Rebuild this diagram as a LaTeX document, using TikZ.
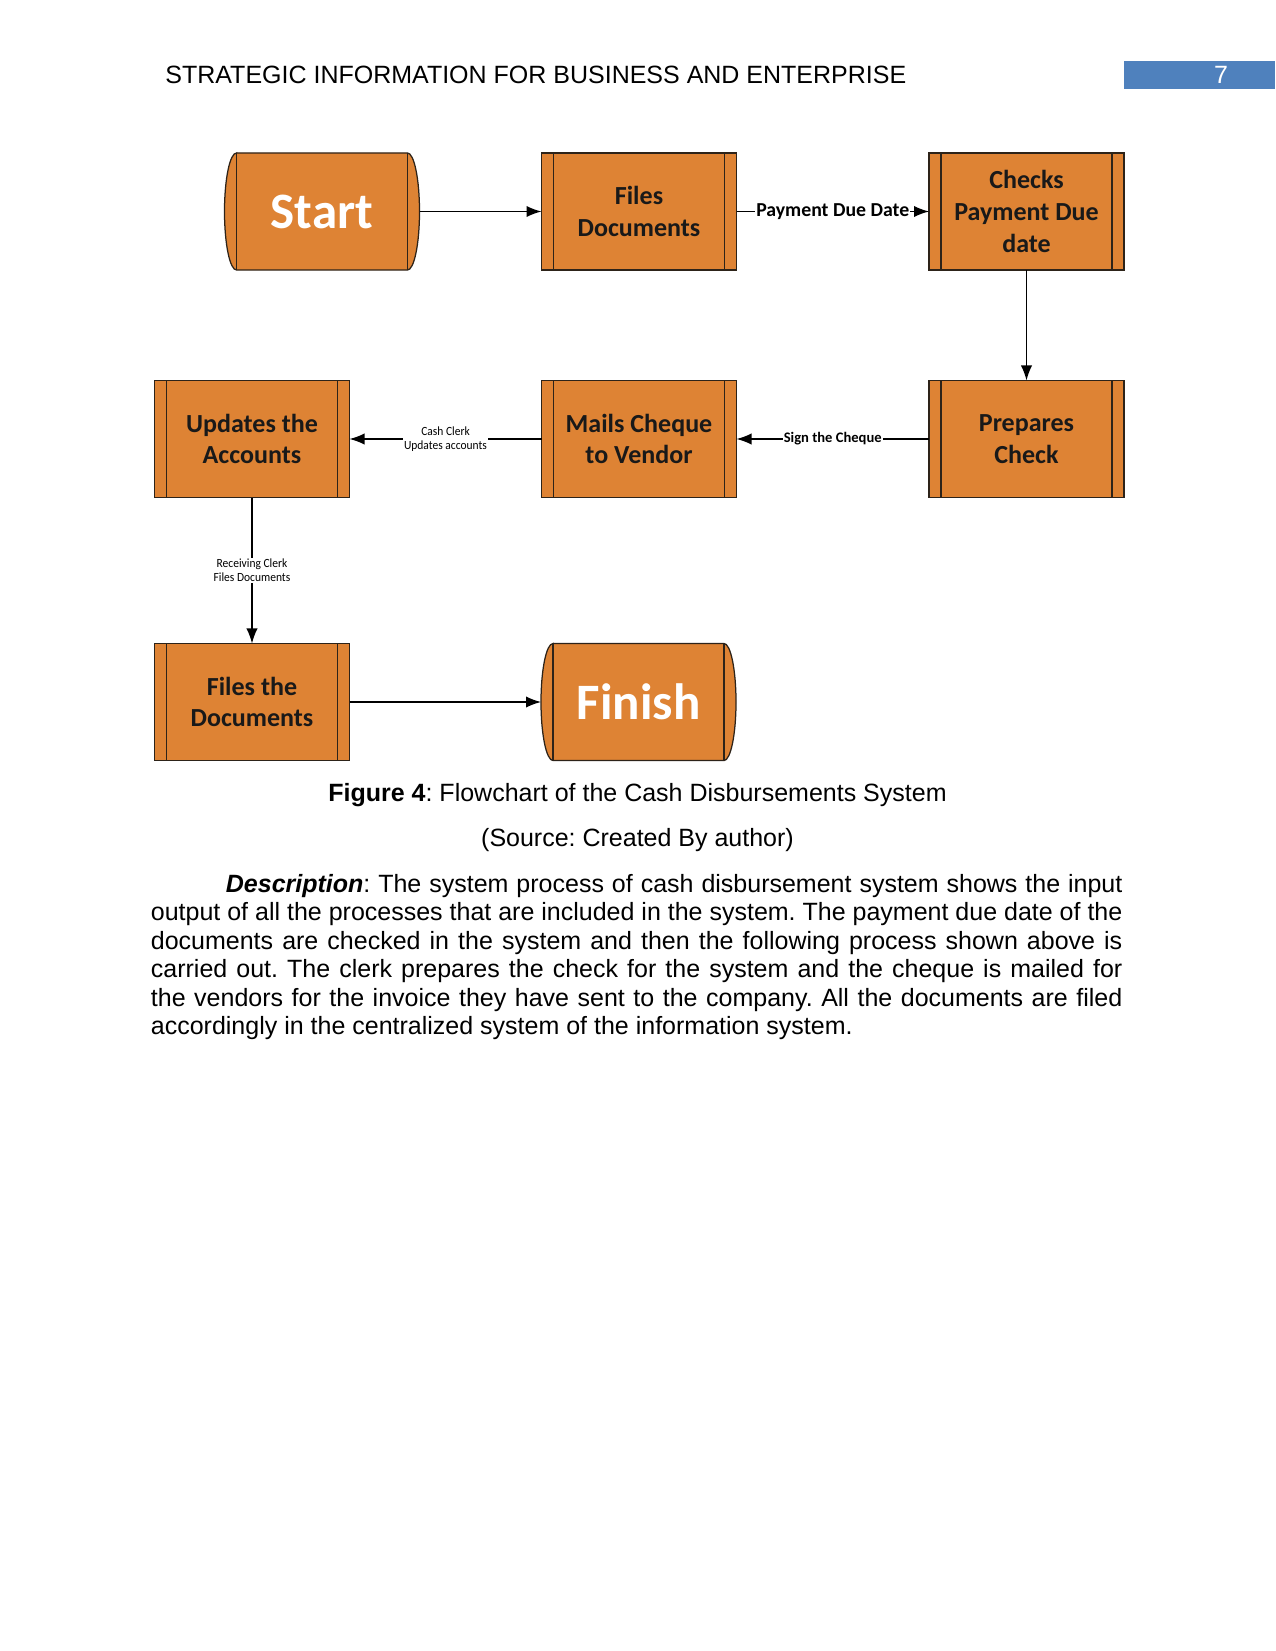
\documentclass[tikz,border=0pt]{standalone}
\usepackage{fontspec}
\setmainfont{Liberation Sans}
\newfontfamily\boxfont{Carlito}
\newfontfamily\tagfont[FakeStretch=0.92]{Carlito}
\usetikzlibrary{arrows.meta, positioning, backgrounds}
\frenchspacing

\definecolor{boxfill}{RGB}{222,131,52}
\definecolor{boxline}{RGB}{45,35,25}
\definecolor{headblue}{RGB}{79,129,189}

\tikzset{
  proc/.style={draw=boxline, fill=boxfill, line width=0.6pt, outer sep=0pt,
    minimum width=93.6pt, minimum height=56.2pt, inner sep=0pt, align=center,
    text=black!90, font=\boxfont\bfseries\fontsize{12.5}{15.2}\selectfont},
  terminal/.style={outer sep=0pt, inner sep=0pt, minimum width=93.6pt,
    minimum height=56.2pt, text=white,
    font=\boxfont\bfseries\fontsize{24.5}{29}\selectfont},
  flow/.style={line width=0.6pt, -{Latex[length=7.2pt,width=5.4pt]}},
  bigtag/.style={fill=white, inner sep=0.6pt, font=\boxfont\bfseries\fontsize{9.5}{11}\selectfont},
  midtag/.style={fill=white, inner sep=0.6pt, font=\boxfont\bfseries\fontsize{7}{8}\selectfont},
  smalltag/.style={fill=white, inner sep=0.6pt, align=center,
    font=\tagfont\fontsize{6}{6.7}\selectfont},
  pagetext/.style={inner sep=0pt, font=\fontsize{12}{13.7}\selectfont}
}

\begin{document}
\begin{tikzpicture}[x=0.48pt, y=-0.48pt]
  \useasboundingbox (0,0) rectangle (1275,1651);

  % ---- page header ----
  \node[pagetext, anchor=base west] (head) at (165,84)
    {STRATEGIC INFORMATION FOR BUSINESS AND ENTERPRISE};
  \fill[headblue] (1124,61) rectangle (1275,89);
  \node[pagetext, anchor=base, text=white] (pagenum) at (1221,84) {7};

  % ---- flowchart boxes ----
  \node[terminal] (start) at (322,211.5) {Start};
  \node[proc] (files) at (639,211.5) {Files\\Documents};
  \node[proc] (checks) at (1026.5,211.5) {Checks\\Payment Due\\date};
  \node[proc] (prepares) at (1026.5,439) {Prepares\\Check};
  \node[proc] (mails) at (639,439) {Mails Cheque\\to Vendor};
  \node[proc] (updates) at (252,439) {Updates the\\Accounts};
  \node[proc] (filed) at (252,702) {Files the\\Documents};
  \node[terminal] (finish) at (638.5,702) {Finish};

  % side bars of the process boxes
  \foreach \n in {files,checks,prepares,mails,updates,filed}
    \draw[boxline, line width=0.6pt]
      ([xshift=5.76pt]\n.north west) -- ([xshift=5.76pt]\n.south west)
      ([xshift=-5.76pt]\n.north east) -- ([xshift=-5.76pt]\n.south east);

  % rounded ends of start and finish
  \begin{scope}[on background layer]
    \foreach \n in {start,finish} {
      \filldraw[draw=boxline, fill=boxfill, line width=0.6pt]
        ([xshift=5.76pt]\n.north west) -- ([xshift=-5.76pt]\n.north east)
        arc[start angle=90, end angle=-90, x radius=5.76pt, y radius=28.1pt]
        -- ([xshift=5.76pt]\n.south west)
        arc[start angle=270, end angle=90, x radius=5.76pt, y radius=28.1pt]
        -- cycle;
      \draw[boxline, line width=0.6pt]
        ([xshift=5.76pt]\n.north west) -- ([xshift=5.76pt]\n.south west)
        ([xshift=-5.76pt]\n.north east) -- ([xshift=-5.76pt]\n.south east);
    }
  \end{scope}

  % ---- connectors ----
  \draw[flow] (start) -- (files);
  \draw[flow] (files) -- node[bigtag] {Payment Due Date} (checks);
  \draw[flow] (checks) -- (prepares);
  \draw[flow] (prepares) -- node[midtag] {Sign the Cheque} (mails);
  \draw[flow] (mails) -- node[smalltag] {Cash Clerk\\Updates accounts} (updates);
  \draw[flow] (updates) -- node[smalltag] {Receiving Clerk\\Files Documents} (filed);
  \draw[flow] (filed) -- (finish);

  % ---- caption and text ----
  \node[pagetext, anchor=base] (caption) at (637.5,801)
    {\textbf{Figure 4}: Flowchart of the Cash Disbursements System};
  \node[pagetext, anchor=base] (source) at (637.5,846)
    {(Source: Created By author)};
  \node[pagetext, anchor=base west, text width=466.3pt, align=justify] (descr) at (150.5,892)
    {\hspace*{36pt}\textbf{\textit{Description}}: The system process of cash disbursement system shows the input\linebreak
     output of all the processes that are included in the system. The payment due date of the\linebreak
     documents are checked in the system and then the following process shown above is\linebreak
     carried out. The clerk prepares the check for the system and the cheque is mailed for\linebreak
     the vendors for the invoice they have sent to the company. All the documents are filed\linebreak
     accordingly in the centralized system of the information system.};
\end{tikzpicture}
\end{document}
